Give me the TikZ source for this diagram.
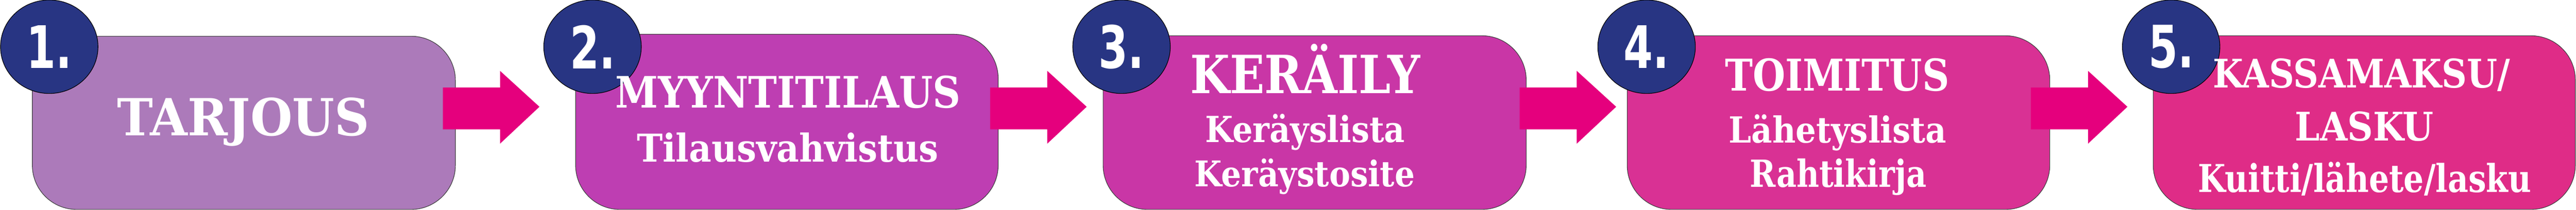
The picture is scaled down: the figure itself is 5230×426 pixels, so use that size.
\documentclass[tikz,border=0pt]{standalone}
\usepackage{fontspec}
\usepackage{graphicx}
\setmainfont{DejaVu Serif Condensed}
\newfontfamily\slabfont{DejaVu Serif Condensed}
\newfontfamily\numfont{DejaVu Sans Condensed}[FakeStretch=0.8]
\usepackage{tikz}
\usetikzlibrary{shapes.geometric}
\definecolor{navy}{HTML}{283583}
\definecolor{flowpink}{HTML}{E5007D}
\definecolor{boxa}{HTML}{AC7ABA}
\definecolor{boxb}{HTML}{BE3EB2}
\definecolor{boxc}{HTML}{C936A6}
\definecolor{boxd}{HTML}{D93194}
\definecolor{boxe}{HTML}{DF2C87}

\tikzset{
  stepbox/.style={draw=black!75, line width=1.2pt, rounded corners=90pt,
    anchor=north west, inner sep=0pt},
  numball/.style={ellipse, draw=black, line width=1.2pt, fill=navy,
    minimum width=198pt, minimum height=190pt, inner sep=0pt, text=white,
    font=\numfont\bfseries\fontsize{119}{119}\selectfont},
  lbl/.style={text=white, inner sep=0pt, anchor=base,
    font=\slabfont\bfseries\fontsize{#1}{#1}\selectfont},
  arrowfill/.style={fill=flowpink}
}
% text squeezed to a given width (in pt)
\newcommand{\wtext}[2]{\resizebox{#1pt}{\height}{#2}}
% block arrow, starting #2 pt from the east side of box #1
\newcommand{\flowarrow}[2]{%
  \fill[arrowfill] ([xshift=#2pt]#1.east |- 0,178) -- ++(116,0) -- ++(0,-34)
    -- ++(80,73) -- ++(-80,75) -- ++(0,-29) -- ++(-116,0) -- cycle;}

\begin{document}
\begin{tikzpicture}[x=1pt, y=-1pt]
\useasboundingbox (0,0) rectangle (5230,426);
% boxes
\node[stepbox, fill=boxa, minimum width=859pt, minimum height=352pt] (b1) at (65,73) {};
\node[stepbox, fill=boxb, minimum width=858pt, minimum height=356pt] (b2) at (1168,69) {};
\node[stepbox, fill=boxc, minimum width=859pt, minimum height=353pt] (b3) at (2239,72) {};
\node[stepbox, fill=boxd, minimum width=858pt, minimum height=353pt] (b4) at (3303,72) {};
\node[stepbox, fill=boxe, minimum width=857pt, minimum height=353pt] (b5) at (4371,72) {};
% arrows between the boxes
\flowarrow{b1}{-26}
\flowarrow{b2}{-17}
\flowarrow{b3}{-14}
\flowarrow{b4}{-39}
% step numbers
\node[numball] (n1) at (100,95) {1.};
\node[numball] (n2) at (1203,95) {2.};
\node[numball] (n3) at (2277,95) {3.};
\node[numball] (n4) at (3343,95) {4.};
\node[numball] (n5) at (4408,95) {5.};
% texts
\node[lbl=104] (t1) at (494,276) {\wtext{512}{TARJOUS}};
\node[lbl=88] (t2a) at (1600,219) {\wtext{701}{MYYNTITILAUS}};
\node[lbl=78] (t2b) at (1599,329) {\wtext{612}{Tilausvahvistus}};
\node[lbl=107] (t3a) at (2650,190) {\wtext{467}{KERÄILY}};
\node[lbl=73] (t3b) at (2650,289) {\wtext{405}{Keräyslista}};
\node[lbl=72] (t3c) at (2649,379) {\wtext{447}{Keräystosite}};
\node[lbl=89] (t4a) at (3730,185) {\wtext{455}{TOIMITUS}};
\node[lbl=73] (t4b) at (3731,290) {\wtext{442}{Lähetyslista}};
\node[lbl=76] (t4c) at (3732,380) {\wtext{359}{Rahtikirja}};
\node[lbl=80] (t5a) at (4795,178) {\wtext{603}{KASSAMAKSU/}};
\node[lbl=80] (t5b) at (4800,286) {\wtext{281}{LASKU}};
\node[lbl=78] (t5c) at (4801,391) {\wtext{676}{Kuitti/lähete/lasku}};
\end{tikzpicture}
\end{document}
